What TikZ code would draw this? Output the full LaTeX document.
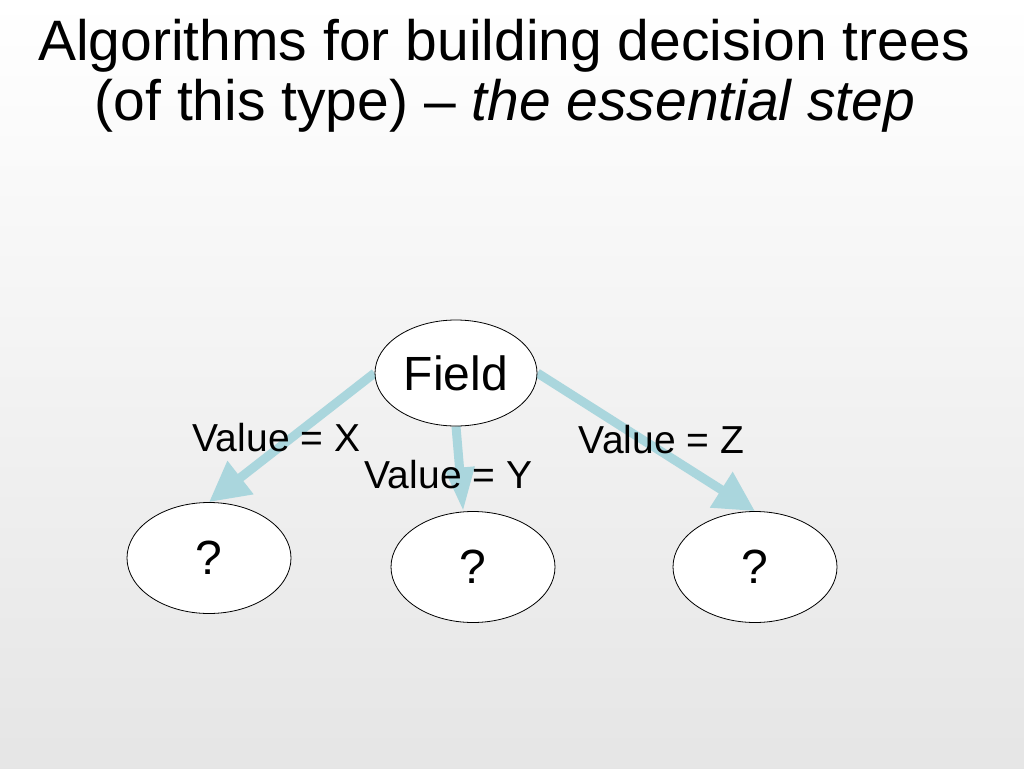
\documentclass[tikz,border=0pt]{standalone}
\usepackage{fontspec}
\setmainfont{Liberation Sans}
\usetikzlibrary{shapes.geometric,arrows.meta,backgrounds}
\definecolor{branchblue}{RGB}{170,214,221}

\begin{document}
\begin{tikzpicture}[
  x = 1pt, y = -1pt,
  field/.style = {ellipse, draw, line width = 0.8pt, fill = white, inner sep = 0pt,
    minimum width = 162pt, minimum height = 106pt, font = \fontsize{48}{48}\selectfont},
  leaf/.style = {field, minimum width = 164pt, minimum height = 111pt},
  branch/.style = {draw = branchblue, line width = 9pt,
    -{Triangle[length = 40pt, width = 40pt]}},
  value/.style = {anchor = base, inner sep = 0pt, font = \fontsize{39}{39}\selectfont},
  heading/.style = {anchor = base, inner sep = 0pt, font = \fontsize{57}{60}\selectfont}
]

\node[heading] (title) at (504,60) {Algorithms for building decision trees};
\node[heading] (subtitle) at (505,120) {(of this type) – \textit{the essential step}};

\node[field] (field) at (456,373) {Field};
\node[leaf] (x) at (209,558) {?};
\node[leaf] (y) at (473,567) {?};
\node[leaf] (z) at (755,567) {?};

\begin{scope}[on background layer]
  \shade[top color = white, bottom color = black!10] (0,0) rectangle (1024,768);
  \draw[branch] (field.west) -- (x.north);
  \draw[branch, -{Triangle[length = 44pt, width = 28pt]}] (field.south) -- (y.100);
  \draw[branch] (field.east) -- (z.north);
\end{scope}

\node[value] (valx) at (276.5,451) {Value = X};
\node[value] (valy) at (448.5,488) {Value = Y};
\node[value] (valz) at (661.5,453) {Value = Z};

\end{tikzpicture}
\end{document}
